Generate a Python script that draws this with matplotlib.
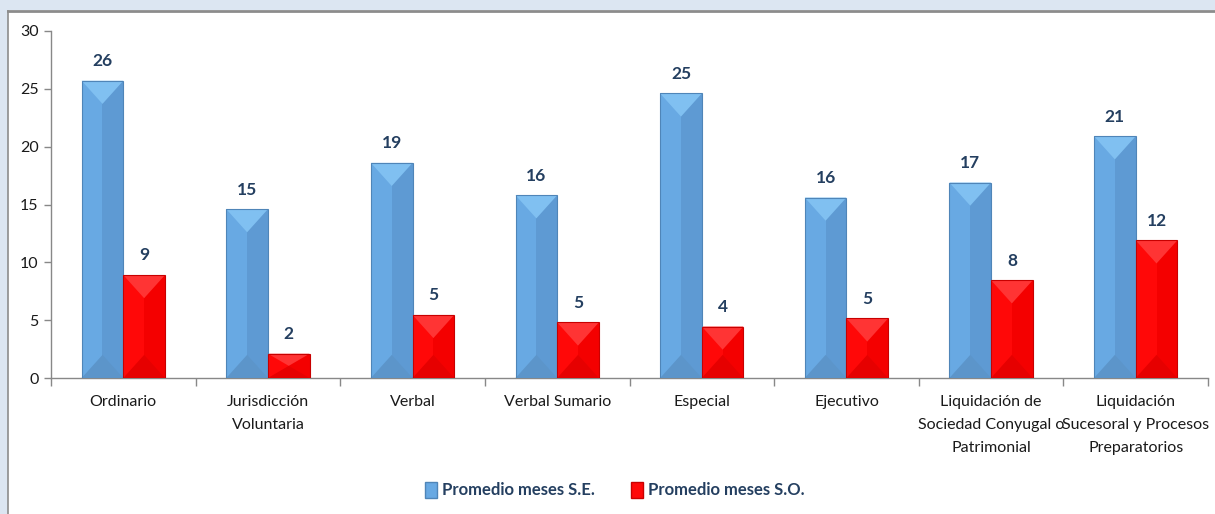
import numpy as np
import matplotlib
matplotlib.use('Agg')
import matplotlib.pyplot as plt
from matplotlib.patches import Polygon, Rectangle, Patch

categories = ['Ordinario', 'Jurisdicción\nVoluntaria', 'Verbal', 'Verbal Sumario',
              'Especial', 'Ejecutivo', 'Liquidación de\nSociedad Conyugal o\nPatrimonial',
              'Liquidación\nSucesoral y Procesos\nPreparatorios']
se_values = [25.7, 14.6, 18.6, 15.8, 24.6, 15.6, 16.9, 20.9]
so_values = [8.9, 2.1, 5.45, 4.8, 4.45, 5.15, 8.45, 11.9]
series_names = ['Promedio meses S.E.', 'Promedio meses S.O.']

plt.rcParams['font.family'] = ['Lato', 'DejaVu Sans']

# colours for the bevelled look: main, right half, top face, bottom face, edge
blue = dict(main='#68a9e3', right='#5e9ad3', top='#80c0f1', bottom='#5c95ca', edge='#4f85b8')
red = dict(main='#ff0808', right='#f40000', top='#ff3434', bottom='#e60000', edge='#c80000')
label_color = '#243f60'

fig = plt.figure(figsize=(12.15, 5.14), dpi=100)
fig.patch.set_facecolor('#dce6f2')

# white chart area with a grey frame on top / left
fig.patches.append(Rectangle((8 / 1215, 0), 1.0, 1 - 10 / 514, transform=fig.transFigure,
                             facecolor='white', edgecolor='none', zorder=-10))
fig.lines.append(plt.Line2D([8 / 1215, 1], [1 - 11 / 514, 1 - 11 / 514], transform=fig.transFigure,
                            color='#8c8c8c', lw=2, zorder=-5))
fig.lines.append(plt.Line2D([8 / 1215, 8 / 1215], [0, 1 - 11 / 514], transform=fig.transFigure,
                            color='#8c8c8c', lw=1.2, zorder=-5))

ax = fig.add_axes([51 / 1215, 136 / 514, 1157 / 1215, 347 / 514])
ax.set_facecolor('none')

x = np.arange(len(categories))
w = 0.288


def bevel_bars(bars, col):
    for b in bars:
        x0, w0, h = b.get_x(), b.get_width(), b.get_height()
        d = min(2.0, h / 2)
        xm = x0 + w0 / 2
        ax.add_patch(Rectangle((xm, 0), w0 / 2, h, facecolor=col['right'], edgecolor='none', zorder=3))
        ax.add_patch(Polygon([(x0, h), (x0 + w0, h), (xm, h - d)], closed=True,
                             facecolor=col['top'], edgecolor='none', zorder=3))
        ax.add_patch(Polygon([(x0, 0), (x0 + w0, 0), (xm, d)], closed=True,
                             facecolor=col['bottom'], edgecolor='none', zorder=3))
        ax.add_patch(Rectangle((x0, 0), w0, h, facecolor='none', edgecolor=col['edge'], lw=0.8, zorder=4))
        ax.text(xm, h + 1.0, '{:.0f}'.format(h), ha='center', va='bottom', fontsize=12.5,
                fontweight='bold', color=label_color)


b1 = ax.bar(x - w / 2, se_values, w, color=blue['main'], edgecolor='none', zorder=2)
b2 = ax.bar(x + w / 2, so_values, w, color=red['main'], edgecolor='none', zorder=2)
bevel_bars(b1, blue)
bevel_bars(b2, red)

ax.set_xlim(-0.5, len(categories) - 0.5)
ax.set_ylim(0, 30)
ax.set_yticks(range(0, 31, 5))
ax.tick_params(axis='y', labelsize=11.5, colors='#888888', labelcolor='#1a1a1a', length=5, width=1, pad=4)

ax.set_xticks(x)
ax.set_xticklabels(categories, fontsize=11.5, color='#1a1a1a', linespacing=1.85)
ax.tick_params(axis='x', length=0, pad=12)
ax.set_xticks(np.arange(len(categories) + 1) - 0.5, minor=True)
ax.tick_params(axis='x', which='minor', length=6, color='#888888', width=1)

for s in ['top', 'right']:
    ax.spines[s].set_visible(False)
for s in ['left', 'bottom']:
    ax.spines[s].set_color('#888888')
    ax.spines[s].set_linewidth(1)

handles = [Patch(facecolor=blue['main'], edgecolor=blue['edge']),
           Patch(facecolor=red['main'], edgecolor=red['edge'])]
fig.legend(handles, series_names, loc='center', bbox_to_anchor=(615 / 1215, 1 - 490 / 514),
           ncol=2, frameon=False, handlelength=0.7, handleheight=1.1, handletextpad=0.3,
           columnspacing=2.2, prop={'size': 12, 'weight': 'bold'}, labelcolor=label_color)

fig.savefig('out.png', dpi=100, facecolor=fig.get_facecolor())
